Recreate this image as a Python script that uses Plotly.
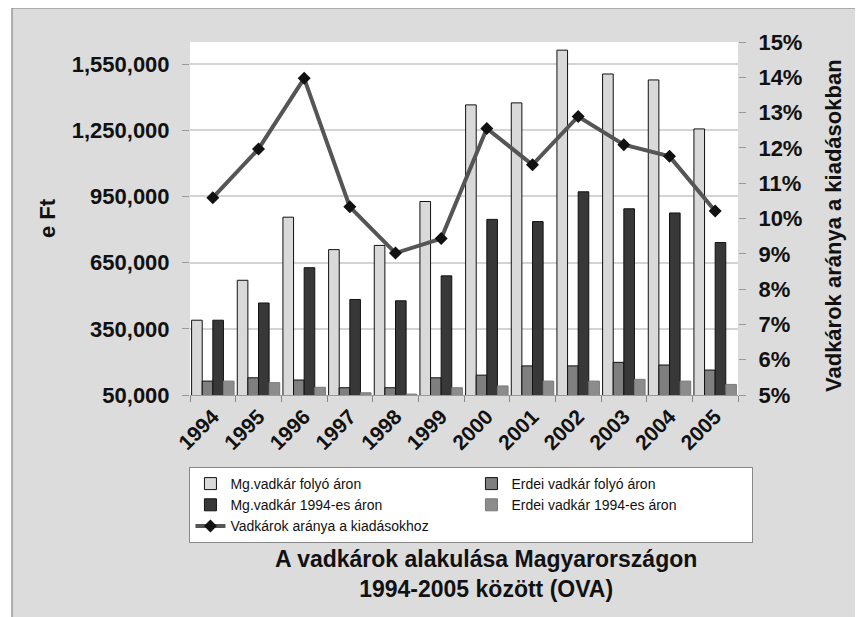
import plotly.graph_objects as go

# Data
years = ['1994', '1995', '1996', '1997', '1998', '1999',
         '2000', '2001', '2002', '2003', '2004', '2005']
mg_folyo = [389000, 570000, 856000, 709000, 728000, 927000,
            1365000, 1374000, 1613000, 1505000, 1478000, 1256000]
erdei_folyo = [113000, 128000, 118000, 83000, 83000, 128000,
               140000, 182000, 182000, 198000, 186000, 163000]
mg_1994 = [389000, 467000, 627000, 483000, 477000, 590000,
           846000, 836000, 971000, 894000, 875000, 741000]
erdei_1994 = [113000, 106000, 85000, 60000, 54000, 83000,
              91000, 113000, 113000, 121000, 113000, 98000]
arany = [0.1059, 0.1197, 0.1397, 0.1033, 0.0902, 0.0943,
         0.1255, 0.1152, 0.1289, 0.1209, 0.1176, 0.1021]

FONT = "Liberation Sans, Arial, sans-serif"

# the page body has an 8px margin, so the figure starts at (8, 8)
OFF = 8
W, H = 863 - OFF, 617 - OFF
# plot area in page pixels
L, R, T, B = 190, 738, 42, 395


def px_x(x):
    return (x - L) / (R - L)


def px_y(y):
    return (B - y) / (B - T)


fig = go.Figure()

bar_specs = [
    ('Mg.vadkár folyó áron', mg_folyo, '#d9d9d9', '#111111'),
    ('Erdei vadkár folyó áron', erdei_folyo, '#7f7f7f', '#111111'),
    ('Mg.vadkár 1994-es áron', mg_1994, '#383838', '#111111'),
    ('Erdei vadkár 1994-es áron', erdei_1994, '#8c8c8c', '#7a7a7a'),
]
for name, vals, color, edge in bar_specs:
    fig.add_trace(go.Bar(x=years, y=vals, name=name,
                         marker=dict(color=color, line=dict(color=edge, width=1))))

fig.add_trace(go.Scatter(x=years, y=arany, name='Vadkárok aránya a kiadásokhoz',
                         mode='lines+markers', yaxis='y2',
                         line=dict(color='#555555', width=4),
                         marker=dict(symbol='diamond', size=10, color='#111111')))

fig.update_layout(
    width=W, height=H,
    margin=dict(l=L - OFF, r=W - (R - OFF), t=T - OFF, b=H - (B - OFF), autoexpand=False),
    paper_bgcolor='white',
    plot_bgcolor='white',
    font=dict(family=FONT, color='#111111'),
    barmode='group',
    bargap=0.07,
    bargroupgap=0,
    showlegend=True,
    xaxis=dict(
        type='category',
        range=[-0.5, len(years) - 0.5],
        tickangle=-45,
        tickfont=dict(size=21, weight='bold'),
        ticks='outside', tickson='boundaries', ticklen=6, tickcolor='#888888',
        showline=True, linecolor='#999999', linewidth=1,
        showgrid=False,
    ),
    yaxis=dict(
        range=[50000, 1650000],
        tickvals=[50000, 350000, 650000, 950000, 1250000, 1550000],
        tickformat=',',
        tickfont=dict(size=22, weight='bold'),
        ticks='outside', ticklen=7, tickcolor='#999999',
        ticklabelstandoff=8,
        showgrid=True, gridcolor='#d4d4d4', gridwidth=1.5,
        zeroline=False, showline=False,
    ),
    yaxis2=dict(
        overlaying='y', side='right',
        range=[0.05, 0.15], dtick=0.01, tickformat='.0%',
        tickfont=dict(size=22, weight='bold'),
        ticks='outside', ticklen=7, tickcolor='#999999',
        ticklabelstandoff=8,
        showgrid=False, zeroline=False, showline=False,
    ),
    legend=dict(
        orientation='h',
        x=-0.001, y=px_y(467),
        xanchor='left', yanchor='top',
        bgcolor='white', bordercolor='#888888', borderwidth=1,
        font=dict(size=14),
        entrywidth=236, entrywidthmode='pixels',
        traceorder='normal', tracegroupgap=0,
    ),
)

# grey frame behind everything
fig.add_shape(type='rect', xref='paper', yref='paper', layer='below',
              x0=px_x(12), x1=px_x(880), y0=px_y(640), y1=px_y(8),
              fillcolor='#dcdcdc', line=dict(color='#999999', width=1.5))
# white plot area on top of the frame
fig.add_shape(type='rect', xref='paper', yref='paper', layer='below',
              x0=0, x1=1, y0=0, y1=1, fillcolor='white', line=dict(width=0))

fig.add_annotation(text='<b>e Ft</b>', xref='paper', yref='paper',
                   x=px_x(47), y=px_y(218), xanchor='center', yanchor='middle',
                   textangle=-90, showarrow=False, font=dict(size=22))
fig.add_annotation(text='<b>Vadkárok aránya a kiadásokban</b>', xref='paper', yref='paper',
                   x=px_x(833), y=px_y(226), xanchor='center', yanchor='middle',
                   textangle=-90, showarrow=False, font=dict(size=22))
fig.add_annotation(text='<b>A vadkárok alakulása Magyarországon<br>1994-2005 között (OVA)</b>',
                   xref='paper', yref='paper', x=px_x(486), y=px_y(574),
                   xanchor='center', yanchor='middle',
                   showarrow=False, font=dict(size=23))

fig.write_html("out.html")
